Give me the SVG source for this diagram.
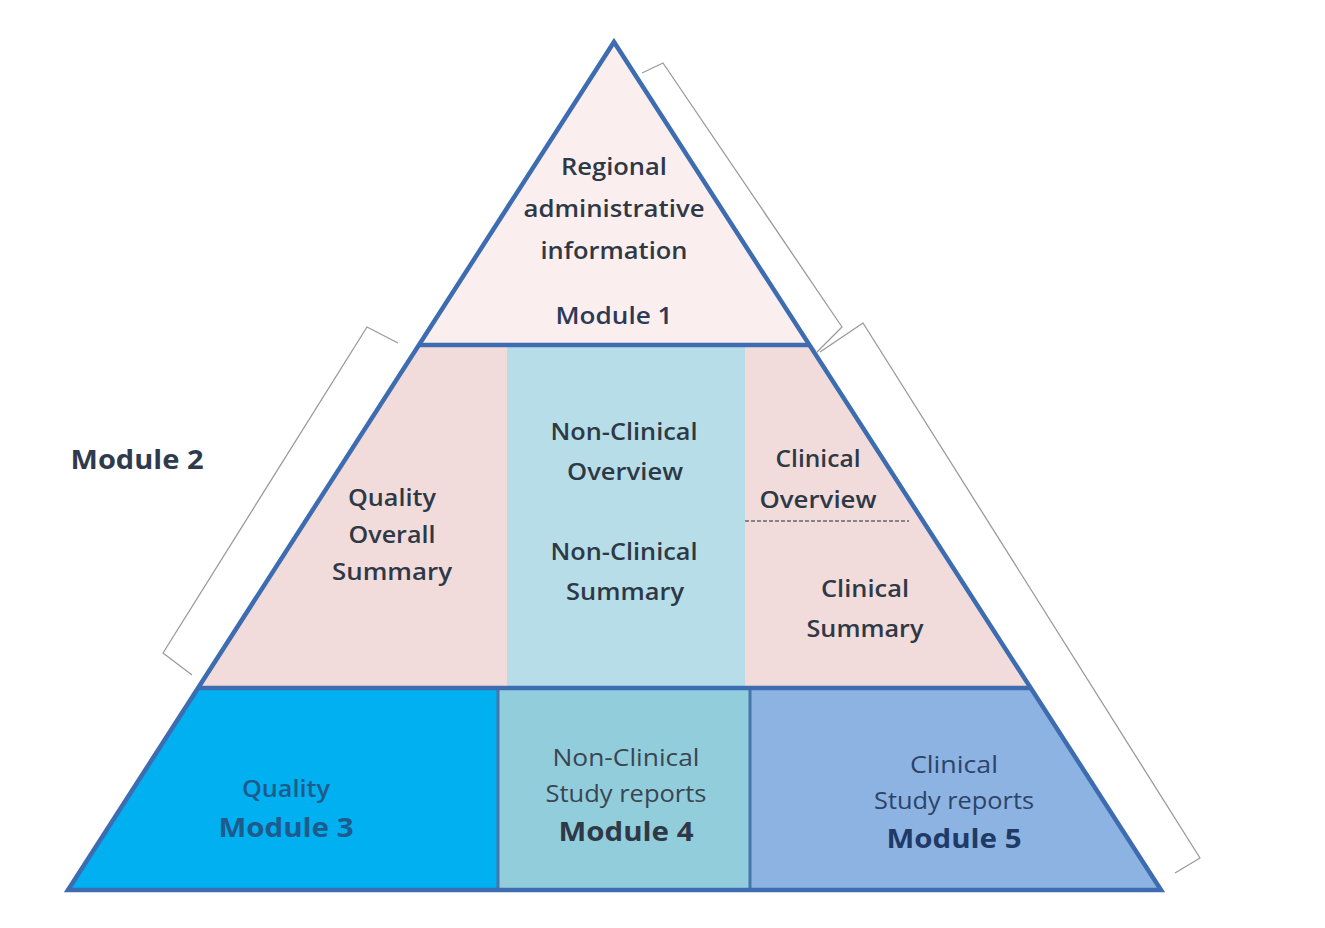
<svg xmlns="http://www.w3.org/2000/svg" width="1325" height="928" viewBox="0 0 1325 928">
<style>
.t{font-family:"Open Sans","Liberation Sans",sans-serif;font-weight:600;fill:#2f3946;text-anchor:middle}
.r{font-weight:400}
.m{font-size:27px;font-weight:700}
.s{font-size:23px}
.edge{fill:none;stroke:#3d6db0;stroke-width:4.5;stroke-linejoin:miter}
.div{stroke:#4674ad;stroke-width:3}
.br{fill:none;stroke:#9a9a9a;stroke-width:1.3;stroke-linejoin:round}
</style>
<rect width="1325" height="928" fill="#ffffff"/>
<g id="module1">
<polygon points="614,42 419,345 809,345" fill="#fbeeee"/>
<text class="t s" x="614" y="175" textLength="106" lengthAdjust="spacingAndGlyphs">Regional</text>
<text class="t s" x="614" y="217" textLength="181" lengthAdjust="spacingAndGlyphs">administrative</text>
<text class="t s" x="614" y="259" textLength="147" lengthAdjust="spacingAndGlyphs">information</text>
<text class="t s" x="614" y="324" textLength="117" lengthAdjust="spacingAndGlyphs" style="fill:#2c3a58">Module 1</text>
</g>
<g id="qos">
<polygon points="419,345 507,345 507,688 198,688" fill="#f2dcdb"/>
<text class="t s" x="392" y="506" textLength="88" lengthAdjust="spacingAndGlyphs">Quality</text>
<text class="t s" x="392" y="543" textLength="87" lengthAdjust="spacingAndGlyphs">Overall</text>
<text class="t s" x="392" y="580" textLength="120" lengthAdjust="spacingAndGlyphs">Summary</text>
</g>
<g id="nonclinical-overview">
<rect x="507" y="345" width="238" height="343" fill="#b7dee8"/>
<text class="t s" x="624" y="440" textLength="147" lengthAdjust="spacingAndGlyphs">Non-Clinical</text>
<text class="t s" x="625" y="480" textLength="116" lengthAdjust="spacingAndGlyphs">Overview</text>
<text class="t s" x="624" y="560" textLength="147" lengthAdjust="spacingAndGlyphs">Non-Clinical</text>
<text class="t s" x="625" y="600" textLength="118" lengthAdjust="spacingAndGlyphs">Summary</text>
</g>
<g id="clinical-overview">
<polygon points="745,345 809,345 1031,688 745,688" fill="#f2dcdb"/>
<line x1="745" y1="521" x2="909" y2="521" stroke="#5f6670" stroke-width="1.5" stroke-dasharray="4 2"/>
<text class="t s" x="818" y="467" textLength="85" lengthAdjust="spacingAndGlyphs">Clinical</text>
<text class="t s" x="818" y="508" textLength="117" lengthAdjust="spacingAndGlyphs">Overview</text>
<text class="t s" x="865" y="597" textLength="88" lengthAdjust="spacingAndGlyphs">Clinical</text>
<text class="t s" x="865" y="637" textLength="117" lengthAdjust="spacingAndGlyphs">Summary</text>
</g>
<g id="module3">
<polygon points="198,688 498,688 498,890 68,890" fill="#00b0f0"/>
<text class="t s" x="286" y="797" textLength="88" lengthAdjust="spacingAndGlyphs" style="fill:#1d5b8c">Quality</text>
<text class="t m" x="286" y="837" textLength="135" lengthAdjust="spacingAndGlyphs" style="fill:#1d5b8c">Module 3</text>
</g>
<g id="module4">
<rect x="498" y="688" width="252" height="202" fill="#92cddc"/>
<text class="t s r" x="626" y="766" textLength="147" lengthAdjust="spacingAndGlyphs" style="fill:#3a4552">Non-Clinical</text>
<text class="t s r" x="626" y="802" textLength="161" lengthAdjust="spacingAndGlyphs" style="fill:#3a4552">Study reports</text>
<text class="t m" x="626" y="841" textLength="135" lengthAdjust="spacingAndGlyphs">Module 4</text>
</g>
<g id="module5">
<polygon points="750,688 1031,688 1161,890 750,890" fill="#8db3e2"/>
<text class="t s r" x="954" y="773" textLength="88" lengthAdjust="spacingAndGlyphs" style="fill:#2b4468">Clinical</text>
<text class="t s r" x="954" y="809" textLength="160" lengthAdjust="spacingAndGlyphs" style="fill:#2b4468">Study reports</text>
<text class="t m" x="954" y="848" textLength="135" lengthAdjust="spacingAndGlyphs" style="fill:#1f3a66">Module 5</text>
</g>
<g id="module2-label">
<text class="t m" x="137" y="469" textLength="133" lengthAdjust="spacingAndGlyphs" style="fill:#2f3b4c">Module 2</text>
</g>
<g id="connectors">
<line class="div" x1="498" y1="688" x2="498" y2="890"/>
<line class="div" x1="750" y1="688" x2="750" y2="890"/>
<line class="edge" x1="419" y1="345" x2="809" y2="345"/>
<line class="edge" x1="198" y1="688" x2="1031" y2="688"/>
<polygon class="edge" points="614,42 1161,890 68,890"/>
<polyline class="br" points="398,343 367,327 163,653 192,675"/>
<polyline class="br" points="642,73 663,63 842,327 817,352"/>
<polyline class="br" points="820,352 863,323 1200,858 1175,873"/>
</g>
</svg>
